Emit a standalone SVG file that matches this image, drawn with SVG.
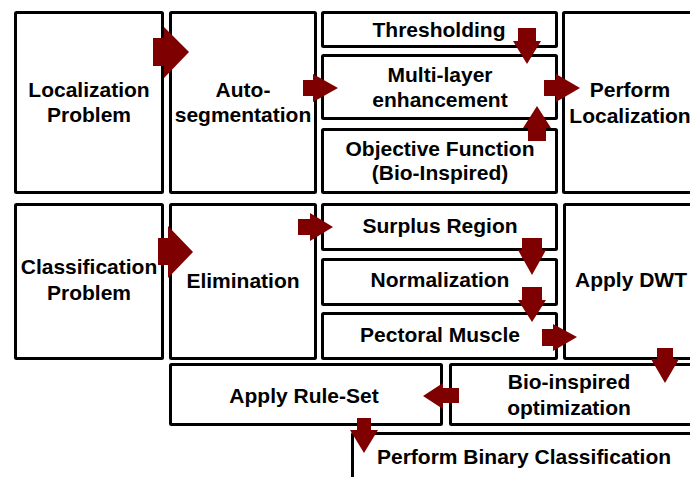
<svg xmlns="http://www.w3.org/2000/svg" width="690" height="477" viewBox="0 0 690 477">
<style>
.box{fill:#fff;stroke:#000;stroke-width:3}
.t{font-family:"Liberation Sans",Arial,sans-serif;font-weight:bold;font-size:21px;fill:#000;text-anchor:middle}
.arr{fill:#7f0000}
</style>
<rect width="690" height="477" fill="#fff"/>
<g id="localization-problem"><rect class="box" x="15.5" y="12.5" width="147" height="180" rx="1"/><text class="t" x="89" y="97">Localization</text><text class="t" x="89" y="122">Problem</text></g>
<g id="auto-segmentation"><rect class="box" x="170.5" y="12.5" width="145" height="180" rx="1"/><text class="t" x="243" y="97">Auto-</text><text class="t" x="243" y="122">segmentation</text></g>
<g id="thresholding"><rect class="box" x="322.5" y="12.5" width="234" height="34" rx="1"/><text class="t" x="439" y="37">Thresholding</text></g>
<g id="multi-layer"><rect class="box" x="322.5" y="55.5" width="234" height="63" rx="1"/><text class="t" x="440" y="82">Multi-layer</text><text class="t" x="440" y="107">enhancement</text></g>
<g id="objective-function"><rect class="box" x="322.5" y="129.5" width="234" height="63" rx="1"/><text class="t" x="440" y="156">Objective Function</text><text class="t" x="440" y="180">(Bio-Inspired)</text></g>
<g id="perform-localization"><rect class="box" x="563.5" y="12.5" width="140" height="180" rx="1"/><text class="t" x="630" y="97">Perform</text><text class="t" x="630" y="123">Localization</text></g>
<g id="classification-problem"><rect class="box" x="15.5" y="204.5" width="147" height="154" rx="1"/><text class="t" x="89" y="274">Classification</text><text class="t" x="89" y="300">Problem</text></g>
<g id="elimination"><rect class="box" x="170.5" y="204.5" width="145" height="154" rx="1"/><text class="t" x="243" y="288">Elimination</text></g>
<g id="surplus-region"><rect class="box" x="322.5" y="204.5" width="234" height="45" rx="1"/><text class="t" x="440" y="233">Surplus Region</text></g>
<g id="normalization"><rect class="box" x="322.5" y="259.5" width="234" height="45" rx="1"/><text class="t" x="440" y="287">Normalization</text></g>
<g id="pectoral-muscle"><rect class="box" x="322.5" y="313.5" width="234" height="45" rx="1"/><text class="t" x="440" y="342">Pectoral Muscle</text></g>
<g id="apply-dwt"><rect class="box" x="564.5" y="204.5" width="140" height="154" rx="1"/><text class="t" x="631" y="287">Apply DWT</text></g>
<g id="apply-rule-set"><rect class="box" x="170.5" y="364.5" width="271" height="60" rx="1"/><text class="t" x="304" y="403">Apply Rule-Set</text></g>
<g id="bio-inspired-optimization"><rect class="box" x="450.5" y="364.5" width="250" height="60" rx="1"/><text class="t" x="569" y="389">Bio-inspired</text><text class="t" x="569" y="415">optimization</text></g>
<g id="perform-binary-classification"><rect class="box" x="352.5" y="433.5" width="350" height="60" rx="1"/><text class="t" x="524" y="464">Perform Binary Classification</text></g>
<g id="connectors">
<polygon class="arr" points="153,38 164,38 164,27 189,52 164,78 164,66 153,66"/>
<polygon class="arr" points="303,80 313,80 313,74 338,88 313,102 313,96 303,96"/>
<polygon class="arr" points="518,28 536,28 536,41 541,41 527,64 513,41 518,41"/>
<polygon class="arr" points="544,80 556,80 556,74 580,88 556,102 556,96 544,96"/>
<polygon class="arr" points="528,141 546,141 546,128 551,128 537,106 523,128 528,128"/>
<polygon class="arr" points="158,238 168,238 168,226 193,252 168,278 168,265 158,265"/>
<polygon class="arr" points="298,219 310,219 310,213 333,227 310,241 310,235 298,235"/>
<polygon class="arr" points="522,238 542,238 542,250 546,250 532,275 518,250 522,250"/>
<polygon class="arr" points="522,287 542,287 542,300 546,300 532,322 518,300 522,300"/>
<polygon class="arr" points="542,329 553,329 553,324 577,337 553,351 553,346 542,346"/>
<polygon class="arr" points="657,348 673,348 673,359 679,359 665,383 651,359 657,359"/>
<polygon class="arr" points="459,388 443,388 443,383 423,396 443,409 443,403 459,403"/>
<polygon class="arr" points="357,418 371,418 371,430 378,430 364,453 350,430 357,430"/>
</g>
</svg>
